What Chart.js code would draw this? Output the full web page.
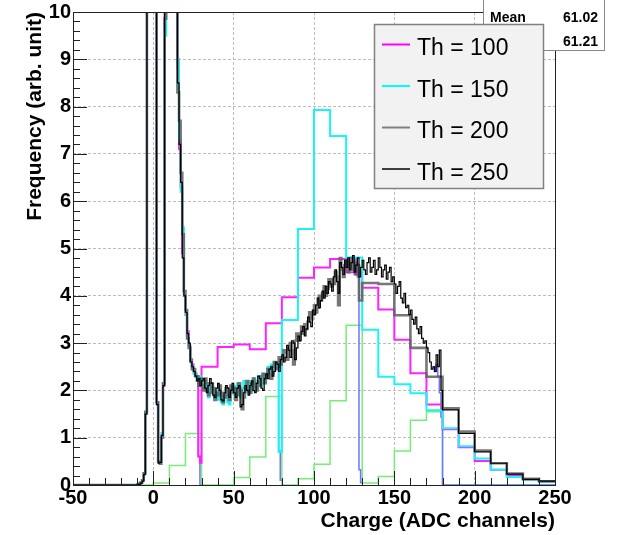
<!DOCTYPE html>
<html>
<head>
<meta charset="utf-8">
<script src="https://cdn.jsdelivr.net/npm/chart.js@4"></script>
<style>
  html, body { margin: 0; padding: 0; background: #fff; }
</style>
</head>
<body>
<canvas id="chart" width="618" height="535"></canvas>
<script>
// axis setup
const xTicks = [-50, 0, 50, 100, 150, 200, 250];
const yTicks = [0, 1, 2, 3, 4, 5, 6, 7, 8, 9, 10];
const xTitle = 'Charge (ADC channels)';
const yTitle = 'Frequency (arb. unit)';
const legendLabels = ['Th = 100', 'Th = 150', 'Th = 200', 'Th = 250'];
const statsRows = [['Mean', '61.02'], ['', '61.21']];

// every histogram is 0 below -10, then 1-channel bins, then 10-channel bins up to 250
const lowEdge = -50;
const fineStart = -10;
const highEdge = 250;

// Th = 100 (magenta): fine bins -10..29, coarse from 30
const magentaFine = [
  0.01, 0.03, 0.05, 0.1, 0.25, 1.5, 25, 25, 25, 25,
  25, 25, 1.75, 0.5, 0.5, 1.05, 2.1, 20, 20, 20,
  20, 20, 20, 20, 20, 8.8, 7.1, 6.3, 4.9, 4.0,
  3.6, 3.25, 2.95, 2.6, 2.55, 2.4, 2.35, 2.2, 0.6, 0.47
];
const magentaCoarseStart = 30;
const magentaCoarse = [2.50, 2.92, 2.97, 2.87, 3.42, 3.97, 4.38, 4.60, 4.78, 4.50, 4.17,
  3.71, 3.07, 2.36, 1.70, 1.18, 0.80, 0.51, 0.32, 0.19, 0.11, 0.08];

// Th = 150 (cyan): fine bins -10..79, coarse from 80
const cyanFine = [
  0.01, 0.02, 0.04, 0.1, 0.23, 1.5, 25, 25, 25, 25,
  25, 25, 1.7, 0.48, 0.5, 1.1, 2.15, 9.5, 20, 20,
  20, 20, 20, 20, 20, 9.0, 7.3, 6.2, 5.45, 4.0,
  3.6, 3.1, 2.95, 2.6, 2.5, 2.35, 2.35, 2.2, 2.2, 2.3,
  2.15, 2.05, 2.20, 2.00, 1.85, 2.05, 2.10, 1.90, 1.85, 2.00,
  1.80, 1.95, 1.75, 1.70, 1.90, 2.00, 1.75, 1.70, 1.95, 2.05,
  1.90, 2.10, 2.15, 1.95, 1.85, 2.05, 2.20, 2.10, 1.95, 2.20,
  2.10, 2.00, 2.25, 2.15, 2.05, 2.30, 2.20, 2.10, 2.35, 2.25,
  2.35, 2.50, 2.40, 2.55, 2.45, 2.60, 2.50, 2.60, 0.70, 0.70
];
const cyanCoarseStart = 80;
const cyanCoarse = [3.49, 5.41, 7.93, 7.38, 4.81, 3.28, 2.29, 2.13, 1.94, 1.58, 1.20,
  0.82, 0.56, 0.32, 0.17, 0.11, 0.07];

// Th = 200 (gray): fine bins -10..129, coarse from 130
const grayFine = [
  0.01, 0.02, 0.05, 0.1, 0.25, 1.55, 25, 25, 25, 25,
  25, 25, 1.75, 0.5, 0.45, 1.0, 2.15, 9.86, 20, 20,
  20, 20, 20, 20, 20, 8.3, 7.7, 6.6, 5.3, 4.1,
  3.7, 3.1, 2.9, 2.65, 2.45, 2.45, 2.3, 2.3, 2.1, 2.25,
  2.10, 2.00, 2.25, 2.15, 1.90, 1.95, 2.15, 2.05, 1.80, 1.95,
  1.90, 2.10, 1.95, 1.75, 1.85, 2.05, 1.90, 1.80, 2.10, 1.95,
  2.05, 1.80, 1.90, 2.15, 2.00, 1.60, 1.85, 2.05, 2.20, 2.00,
  1.95, 2.15, 2.25, 2.05, 2.00, 2.20, 2.10, 2.30, 2.35, 2.15,
  2.30, 2.45, 2.35, 2.25, 2.50, 2.60, 2.45, 2.50, 2.70, 2.55,
  2.65, 2.85, 2.80, 2.65, 2.90, 3.00, 2.85, 2.55, 3.05, 3.20,
  3.05, 3.20, 3.35, 3.20, 3.40, 3.30, 3.45, 3.65, 3.50, 3.60,
  3.80, 3.65, 3.75, 4.00, 3.90, 4.05, 4.20, 4.00, 4.15, 4.35,
  4.20, 4.35, 4.25, 4.50, 4.40, 3.80, 4.80, 4.55, 4.40, 4.65,
  4.75, 4.50, 4.60, 4.80, 4.55, 4.70, 4.45, 4.65, 3.90, 3.90
];
const grayCoarseStart = 130;
const grayCoarse = [4.27, 4.25, 3.59, 2.90, 2.29, 1.62, 1.13, 0.73, 0.46, 0.24, 0.13, 0.08];

// Th = 250 (black): fine bins -10..179, coarse from 180
const blackFine = [
  0.01, 0.02, 0.04, 0.08, 0.22, 1.5, 25, 25, 25, 25,
  25, 25, 1.7, 0.46, 0.48, 1.05, 2.1, 20, 20, 20,
  20, 20, 20, 20, 20, 8.5, 7.2, 6.4, 4.8, 4.0,
  3.65, 3.2, 3.0, 2.6, 2.5, 2.4, 2.3, 2.2, 2.25, 2.1,
  2.20, 2.25, 2.05, 1.95, 2.10, 2.25, 2.15, 1.90, 1.85, 2.05,
  2.15, 2.00, 1.80, 1.78, 1.95, 2.10, 2.05, 1.85, 2.00, 2.15,
  1.95, 1.85, 2.05, 2.10, 1.65, 1.70, 1.95, 2.10, 2.00, 1.90,
  2.10, 2.20, 2.00, 1.95, 2.15, 2.30, 2.25, 2.05, 2.00, 2.25,
  2.35, 2.25, 2.45, 2.50, 2.30, 2.40, 2.60, 2.55, 2.40, 2.65,
  2.75, 2.60, 2.70, 2.95, 2.85, 2.70, 3.05, 3.00, 2.65, 2.90,
  3.15, 3.05, 3.25, 3.35, 3.15, 3.30, 3.55, 3.45, 3.35, 3.70,
  3.60, 3.80, 3.95, 3.75, 3.90, 4.10, 3.95, 4.20, 4.05, 4.30,
  4.25, 4.10, 4.40, 4.55, 4.30, 4.05, 4.70, 4.60, 4.45, 4.75,
  4.60, 4.80, 4.55, 4.70, 4.85, 4.50, 4.65, 4.80, 4.40, 4.60,
  4.75, 4.55, 4.45, 4.70, 4.80, 4.50, 4.60, 4.75, 4.45, 4.55,
  4.80, 4.60, 4.40, 4.55, 4.65, 4.35, 4.50, 4.60, 4.30, 4.40,
  4.25, 4.05, 4.20, 4.30, 3.95, 3.85, 4.05, 3.75, 3.80, 3.60,
  3.70, 3.50, 3.40, 3.55, 3.30, 3.20, 3.35, 3.10, 3.00, 3.05,
  2.90, 2.80, 2.60, 2.45, 2.50, 2.40, 2.75, 2.50, 2.85, 2.00
];
const blackCoarseStart = 180;
const blackCoarse = [1.59, 1.09, 0.70, 0.46, 0.23, 0.12, 0.08];

// green: 10-channel bins from -50
const greenBins = [
  0, 0, 0, 0, 0,
  0.04, 0.41, 1.09, 0, 0, 0.16, 0.59, 1.87, 0, 0.13,
  0.44, 1.78, 3.38, 0.04, 0.18, 0.72, 1.37, 1.55, 0, 0,
  0, 0, 0, 0, 0
];

// blue: only the pieces around the cut-offs show
const blueStarts = [24, 74, 124, 174];
const blueEnds = [30, 80, 130, 250];
const blueVals = [
  [2.5, 2.4, 2.3, 2.2, 0.6, 0],
  [2.35, 2.55, 2.45, 2.6, 0.72, 0.1],
  [4.75, 4.45, 4.8, 4.4, 0.32, 0.05],
  [2.5, 2.4, 2.55, 2.3, 1.95, 1.44, 0]
];

function histPoints(parts, end) {
  const pts = [];
  parts.forEach(([start, width, vals]) => {
    vals.forEach((v, i) => pts.push({ x: start + i * width, y: v }));
  });
  pts.push({ x: end, y: pts[pts.length - 1].y });
  return pts;
}

function bluePoints() {
  const pts = [];
  blueStarts.forEach((s, k) => {
    blueVals[k].forEach((v, i) => pts.push({ x: s + i, y: v }));
    pts.push({ x: blueEnds[k], y: blueVals[k][blueVals[k].length - 1] });
    pts.push({ x: blueEnds[k], y: null });
  });
  return pts;
}

function hist(data, color, width) {
  return { data: data, borderColor: color, borderWidth: width, stepped: 'before',
    pointRadius: 0, fill: false, tension: 0 };
}

const FONT = "'Liberation Sans', Arial, sans-serif";
Chart.defaults.font.family = FONT;

const rootStyle = {
  id: 'rootStyle',
  afterDatasetsDraw(chart) {
    const { ctx, chartArea: a, scales: { x, y } } = chart;
    ctx.save();
    ctx.strokeStyle = '#222';
    ctx.lineWidth = 1;
    ctx.beginPath();
    // minor/major ticks inside the frame
    for (let v = xTicks[0]; v <= xTicks[xTicks.length - 1]; v += 10) {
      const px = Math.round(x.getPixelForValue(v)) + 0.5;
      const len = v % 50 === 0 ? 14 : 7;
      ctx.moveTo(px, a.bottom);
      ctx.lineTo(px, a.bottom - len);
    }
    for (let i = 0; i <= 50; i++) {
      const py = Math.round(y.getPixelForValue(i * 0.2)) + 0.5;
      const len = i % 5 === 0 ? 14 : 7;
      ctx.moveTo(a.left, py);
      ctx.lineTo(a.left + len, py);
    }
    ctx.stroke();
    ctx.strokeRect(Math.round(a.left) + 0.5, Math.round(a.top) + 0.5,
      Math.round(a.right - a.left), Math.round(a.bottom - a.top));
    ctx.restore();
  },
  afterDraw(chart) {
    const ctx = chart.ctx;
    ctx.save();
    // stats box
    ctx.fillStyle = '#fff';
    ctx.fillRect(483, -1, 122, 52);
    ctx.strokeStyle = '#888';
    ctx.lineWidth = 1;
    ctx.strokeRect(483.5, -1.5, 121, 52);
    ctx.fillStyle = '#000';
    ctx.font = 'bold 14px ' + FONT;
    statsRows.forEach((r, i) => {
      const by = 22 + i * 23.5;
      ctx.textAlign = 'left';
      ctx.fillText(r[0], 490, by);
      ctx.textAlign = 'right';
      ctx.fillText(r[1], 598, by);
    });
    // legend box
    ctx.fillStyle = '#f2f2f2';
    ctx.fillRect(374, 24, 170, 165);
    ctx.strokeStyle = '#808080';
    ctx.lineWidth = 1.5;
    ctx.strokeRect(374.5, 24.5, 169, 164);
    const colors = ['#ff00ff', '#00ffff', '#808080', '#000000'];
    const widths = [2, 2, 2, 1.5];
    ctx.font = '23px ' + FONT;
    ctx.textAlign = 'left';
    legendLabels.forEach((t, i) => {
      const ry = 44.5 + i * 41.5;
      ctx.strokeStyle = colors[i];
      ctx.lineWidth = widths[i];
      ctx.beginPath();
      ctx.moveTo(382, ry);
      ctx.lineTo(410, ry);
      ctx.stroke();
      ctx.fillStyle = '#000';
      ctx.fillText(t, 417, ry + 10.7);
    });
    ctx.restore();
  }
};

const datasets = [
  hist(histPoints([[lowEdge, fineStart - lowEdge, [0]], [fineStart, 1, blackFine], [blackCoarseStart, 10, blackCoarse]], highEdge), '#000000', 1.2),
  hist(histPoints([[lowEdge, fineStart - lowEdge, [0]], [fineStart, 1, grayFine], [grayCoarseStart, 10, grayCoarse]], highEdge), 'rgba(95,95,95,0.85)', 2.6),
  hist(histPoints([[lowEdge, fineStart - lowEdge, [0]], [fineStart, 1, cyanFine], [cyanCoarseStart, 10, cyanCoarse]], highEdge), '#19f5f5', 2),
  hist(histPoints([[lowEdge, fineStart - lowEdge, [0]], [fineStart, 1, magentaFine], [magentaCoarseStart, 10, magentaCoarse]], highEdge), '#ff22ff', 2),
  hist(bluePoints(), '#7373ff', 1.5),
  hist(histPoints([[lowEdge, 10, greenBins]], highEdge), '#74ee74', 1.5)
];

new Chart(document.getElementById('chart'), {
  type: 'line',
  data: { datasets: datasets },
  options: {
    responsive: false,
    animation: false,
    events: [],
    layout: { padding: { top: 12, right: 63, bottom: 0, left: 0 } },
    plugins: { legend: { display: false }, tooltip: { enabled: false } },
    scales: {
      x: {
        type: 'linear', min: -50, max: 250,
        afterBuildTicks: s => { s.ticks = xTicks.map(v => ({ value: v })); },
        afterFit: s => { s.height = 50; s.paddingLeft = 0; s.paddingRight = 0; },
        grid: { color: '#bdbdbd', drawTicks: false, lineWidth: 1 },
        border: { display: false, dash: [3, 2] },
        ticks: { color: '#000', font: { size: 20, weight: 'bold' }, padding: 1,
          maxRotation: 0, autoSkip: false, callback: v => String(v) },
        title: { display: true, text: xTitle, align: 'end', color: '#000',
          font: { size: 21, weight: 'bold' }, padding: { top: 0, bottom: 1 } }
      },
      y: {
        type: 'linear', min: 0, max: 10,
        afterBuildTicks: s => { s.ticks = yTicks.map(v => ({ value: v })); },
        afterFit: s => { s.width = 73; s.paddingTop = 0; s.paddingBottom = 0; },
        grid: { color: '#bdbdbd', drawTicks: false, lineWidth: 1 },
        border: { display: false, dash: [3, 2] },
        ticks: { color: '#000', font: { size: 20, weight: 'bold' }, padding: 2,
          autoSkip: false, callback: v => String(v) },
        title: { display: true, text: yTitle, align: 'end', color: '#000',
          font: { size: 21, weight: 'bold' }, padding: { top: 23, bottom: 0 } }
      }
    }
  },
  plugins: [rootStyle]
});
</script>
</body>
</html>
